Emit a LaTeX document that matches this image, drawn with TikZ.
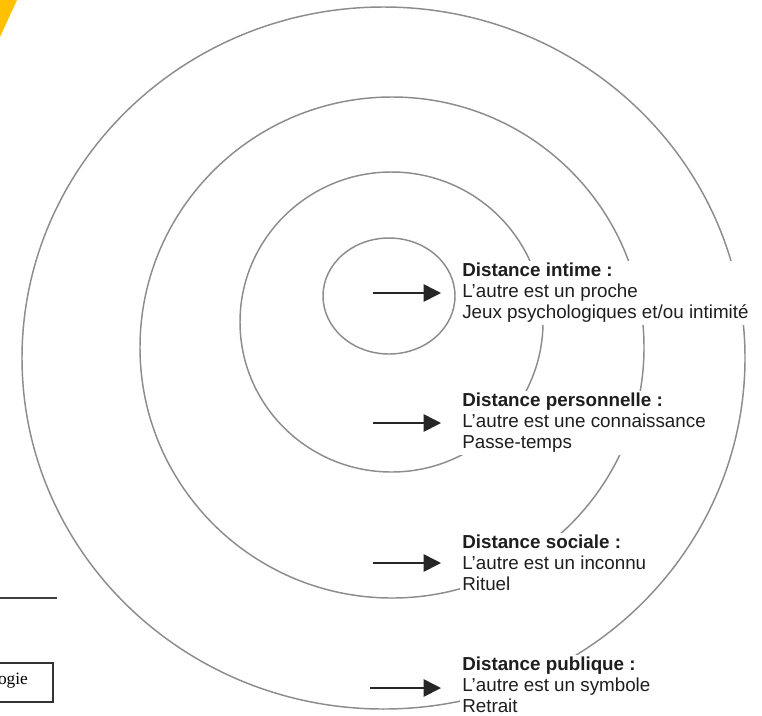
\documentclass[tikz,border=0pt]{standalone}
\usepackage{fontspec}
\setmainfont{Liberation Sans}
\newfontfamily\boxserif{Liberation Serif}
\usepackage{tikz}
\usetikzlibrary{arrows.meta}
\definecolor{ringgray}{RGB}{140,140,140}
\definecolor{cornergold}{RGB}{255,192,0}
\definecolor{txtgray}{RGB}{30,30,30}
\tikzset{ring/.style={draw=ringgray,line width=1.1pt},
    zone/.style={anchor=west,align=left,fill=white,inner sep=1.5pt,text=txtgray,
        font=\fontsize{14.1}{15.75}\selectfont},
    fleche/.style={draw=black!85,line width=1.2pt,-{Triangle[length=13pt,width=13pt]},shorten >=14.25pt}}

\begin{document}
\begin{tikzpicture}[x=0.75pt,y=0.75pt,yscale=-1,xscale=1]
\useasboundingbox (0,0) rectangle (762,715);

%Shape: Triangle
\fill[cornergold] (0,0) -- (17,0) -- (0,37) -- cycle ;

%Shape: Ellipse
\draw[ring] (389,296) ellipse [x radius=66,y radius=58] ;
%Shape: Circle
\draw[ring] (391.5,322) ellipse [x radius=151.5,y radius=150] ;
%Shape: Circle
\draw[ring] (392,347.5) ellipse [x radius=252,y radius=250.5] ;
%Shape: Circle
\draw[ring] (383.5,358) ellipse [x radius=361.5,y radius=351] ;

%Straight Lines
\draw[black!75,line width=0.8pt] (0,598) -- (57,598) ;
%Shape: Rectangle
\draw[black!80,line width=0.8pt] (-5,663) rectangle (53,702) ;
% Text Node
\node[font=\boxserif\fontsize{13}{15}\selectfont,inner sep=0.75pt] (ogie) at (13,681) {ogie};

% Text Node
\node[zone] (intime) at (460,293) {\textbf{Distance intime :}\\L’autre est un proche\\Jeux psychologiques et/ou intimité};
% Text Node
\node[zone] (perso) at (460,423) {\textbf{Distance personnelle :}\\L’autre est une connaissance\\Passe-temps};
% Text Node
\node[zone] (sociale) at (460,563) {\textbf{Distance sociale :}\\L’autre est un inconnu\\Rituel};
% Text Node
\node[zone] (publique) at (460,685) {\textbf{Distance publique :}\\L’autre est un symbole\\Retrait};

%Straight Lines (arrows)
\coordinate (a1) at (373,293);
\coordinate (a2) at (373,423);
\coordinate (a3) at (373,563);
\coordinate (a4) at (370,688);
\draw[fleche] (a1) -- (a1 -| intime.west) ;
\draw[fleche] (a2) -- (a2 -| perso.west) ;
\draw[fleche] (a3) -- (a3 -| sociale.west) ;
\draw[fleche] (a4) -- (a4 -| publique.west) ;

\end{tikzpicture}
\end{document}
